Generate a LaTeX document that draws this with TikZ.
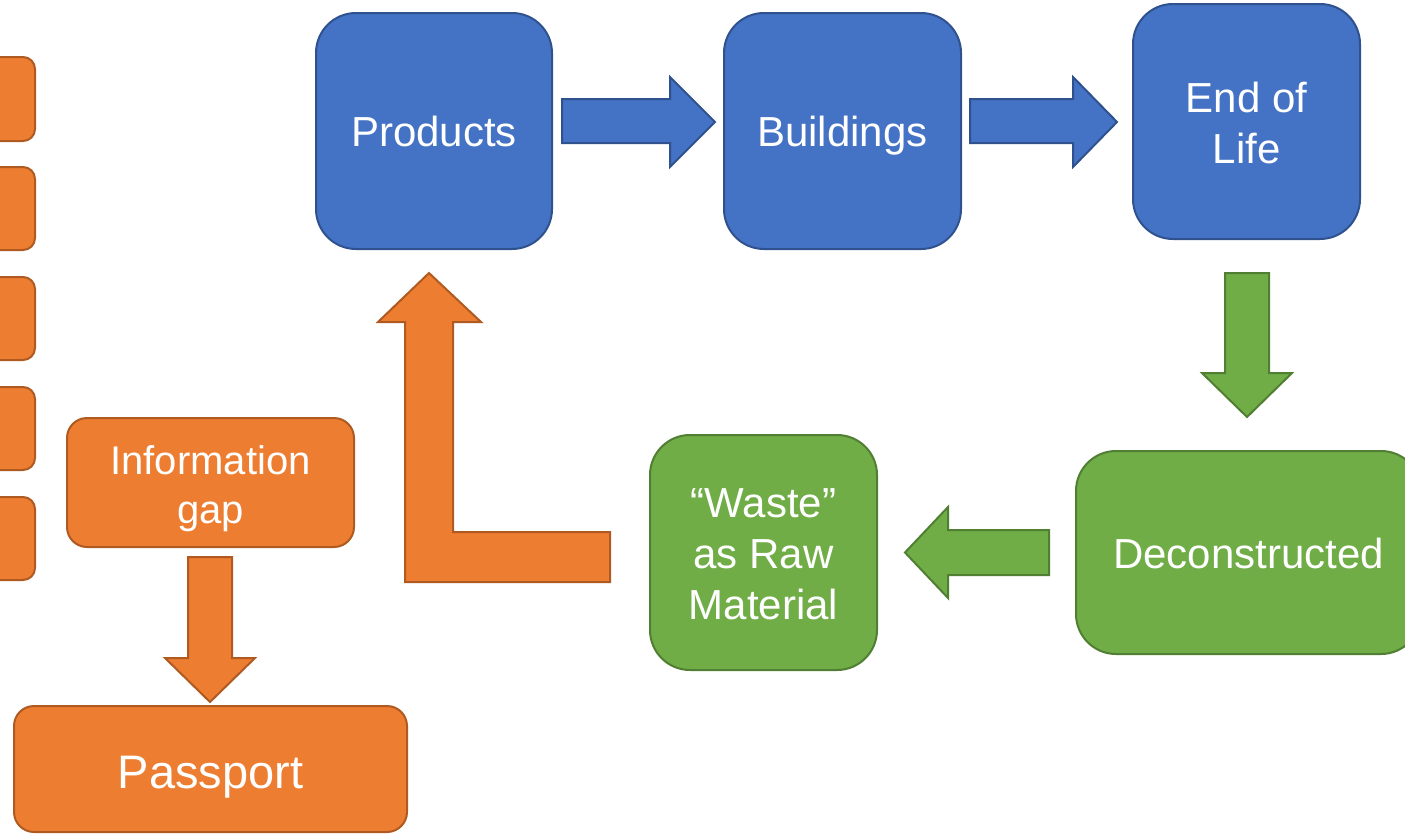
\documentclass[tikz,border=0pt]{standalone}
\usepackage{fontspec}
\setmainfont{Liberation Sans}
\begin{document}
\definecolor{bluefill}{HTML}{4472C4}
\definecolor{blueline}{HTML}{2F528F}
\definecolor{orangefill}{HTML}{ED7D31}
\definecolor{orangeline}{HTML}{AE5A21}
\definecolor{greenfill}{HTML}{70AD47}
\definecolor{greenline}{HTML}{507E32}
\begin{tikzpicture}[x=1pt,y=-1pt,
  box/.style={rounded corners=#1, line width=2pt, text=white, align=center,
    font=\fontsize{42}{51}\selectfont, inner sep=0pt},
  oneline/.style={text height=40.6pt, text depth=8.8pt},
  bluebox/.style={box=40pt, draw=blueline, fill=bluefill},
  greenbox/.style={box=40pt, draw=greenline, fill=greenfill},
  orangebox/.style={box=20pt, draw=orangeline, fill=orangefill},
  bluearrow/.style={draw=blueline, fill=bluefill, line width=2pt, line join=miter},
  greenarrow/.style={draw=greenline, fill=greenfill, line width=2pt, line join=miter},
  orangearrow/.style={draw=orangeline, fill=orangefill, line width=2pt, line join=miter},
  sidetab/.style={draw=orangeline, fill=orangefill, line width=2pt, rounded corners=12pt}]
\useasboundingbox (0,0) rectangle (1405,835);
\clip (0,0) rectangle (1405,835);

% tabs along the left edge
\foreach \t/\b in {57/141,167/250,277/360,387/470,497/580}
  \draw[sidetab] (-40,\t) rectangle (35,\b);

% life-cycle boxes
\node[bluebox, oneline, minimum width=236pt, minimum height=236pt] (products) at (434,131) {Products};
\node[bluebox, oneline, minimum width=237pt, minimum height=236pt] (buildings) at (842.5,131) {Buildings};
\node[bluebox, minimum width=227pt, minimum height=235pt] (eol) at (1246.5,121.5) {\rule{0pt}{33pt}End of\\Life};
\node[greenbox, oneline, minimum width=345pt, minimum height=203pt] (decon) at (1248.5,552.5) {Deconstructed};
\node[greenbox, minimum width=227pt, minimum height=235pt] (waste) at (763.5,552.5) {\rule{0pt}{33pt}“Waste”\\as Raw\\Material};
\node[orangebox, minimum width=287pt, minimum height=129pt, font=\fontsize{40}{49}\selectfont] (gap) at (210.5,482.5) {\rule{0pt}{41pt}Information\\gap};
\node[orangebox, minimum width=393pt, minimum height=126pt, font=\fontsize{47}{56}\selectfont,
  text height=48pt, text depth=9.9pt] (passport) at (210.5,769) {Passport};

% block arrows between the boxes
\draw[bluearrow] (562,99) -- (670,99) -- (670,77) -- (715,122) -- (670,167) -- (670,143) -- (562,143) -- cycle;
\draw[bluearrow] (970,99) -- (1073,99) -- (1073,77) -- (1117,122) -- (1073,167) -- (1073,143) -- (970,143) -- cycle;
\draw[greenarrow] (1225,273) -- (1269,273) -- (1269,373) -- (1292,373) -- (1247,417) -- (1202,373) -- (1225,373) -- cycle;
\draw[greenarrow] (1049,530) -- (948,530) -- (948,507) -- (905,552.5) -- (948,598) -- (948,575) -- (1049,575) -- cycle;
\draw[orangearrow] (610,532) -- (453,532) -- (453,322) -- (481,322) -- (429,273) -- (378,322) -- (405,322) -- (405,582) -- (610,582) -- cycle;
\draw[orangearrow] (188,557) -- (232,557) -- (232,658) -- (255,658) -- (210,702) -- (165,658) -- (188,658) -- cycle;
\end{tikzpicture}
\end{document}
